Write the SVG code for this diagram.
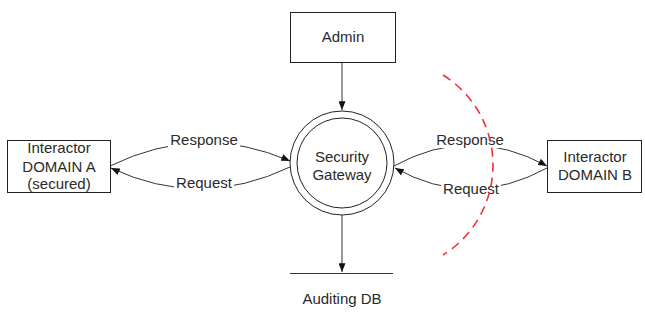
<svg xmlns="http://www.w3.org/2000/svg" width="645" height="324" viewBox="0 0 645 324">
  <defs>
    <marker id="arrow" viewBox="0 0 10 8" refX="10" refY="4" markerWidth="9" markerHeight="7" orient="auto" markerUnits="userSpaceOnUse">
      <path d="M0,0 L10,4 L0,8 Z" fill="#111"/>
    </marker>
    <style>
      text { font-family: "Liberation Sans", Arial, sans-serif; font-size: 15px; fill: #2a2a2a; text-anchor: middle; }
      .box { fill: #fff; stroke: #222; stroke-width: 1; }
      .ring { fill: none; stroke: #222; stroke-width: 1; }
      .flow { fill: none; stroke: #333; stroke-width: 1; marker-end: url(#arrow); }
      .plain { fill: none; stroke: #333; stroke-width: 1; }
      .pad { fill: #fff; }
      .boundary { fill: none; stroke: #f0303a; stroke-width: 1.6; stroke-dasharray: 9 6; }
    </style>
  </defs>

  <rect width="645" height="324" fill="#fff"/>

  <!-- connectors -->
  <g id="connectors">
    <path class="flow" d="M342,62 L342,110"/>
    <path class="flow" d="M342,215 L342,272"/>
    <path class="flow" d="M110,166 Q200,122 290,161"/>
    <path class="flow" d="M290,167 Q200,210 111,168"/>
    <path class="flow" d="M394,166 Q470,124 547,166"/>
    <path class="flow" d="M547,168 Q470,210 395,168"/>
    <!-- flow labels -->
    <rect class="pad" x="168" y="131" width="72" height="17"/>
    <text x="204" y="145">Response</text>
    <rect class="pad" x="174" y="175" width="60" height="17"/>
    <text x="204" y="188">Request</text>
    <rect class="pad" x="434" y="131" width="72" height="17"/>
    <text x="470" y="145">Response</text>
    <rect class="pad" x="441" y="181" width="60" height="17"/>
    <text x="471" y="194">Request</text>
  </g>

  <g id="admin">
    <rect class="box" x="290.5" y="12.5" width="105" height="50"/>
    <text x="343" y="42">Admin</text>
  </g>

  <g id="gateway">
    <circle class="ring" cx="342" cy="163" r="52"/>
    <circle class="ring" cx="342" cy="163" r="45"/>
    <text x="342" y="162">Security</text>
    <text x="342" y="180">Gateway</text>
  </g>

  <g id="domain-a">
    <rect class="box" x="7.5" y="140.5" width="103" height="52"/>
    <text x="59" y="153">Interactor</text>
    <text x="59" y="172">DOMAIN A</text>
    <text x="59" y="189">(secured)</text>
  </g>

  <g id="domain-b">
    <rect class="box" x="547.5" y="140.5" width="94" height="52"/>
    <text x="595" y="162">Interactor</text>
    <text x="595" y="180">DOMAIN B</text>
  </g>

  <g id="auditing-db">
    <path class="plain" d="M290,273.5 L393,273.5"/>
    <text x="342" y="304">Auditing DB</text>
  </g>

  <!-- trust boundary -->
  <path class="boundary" d="M443,75 A106,106 0 0 1 443,255"/>
</svg>
